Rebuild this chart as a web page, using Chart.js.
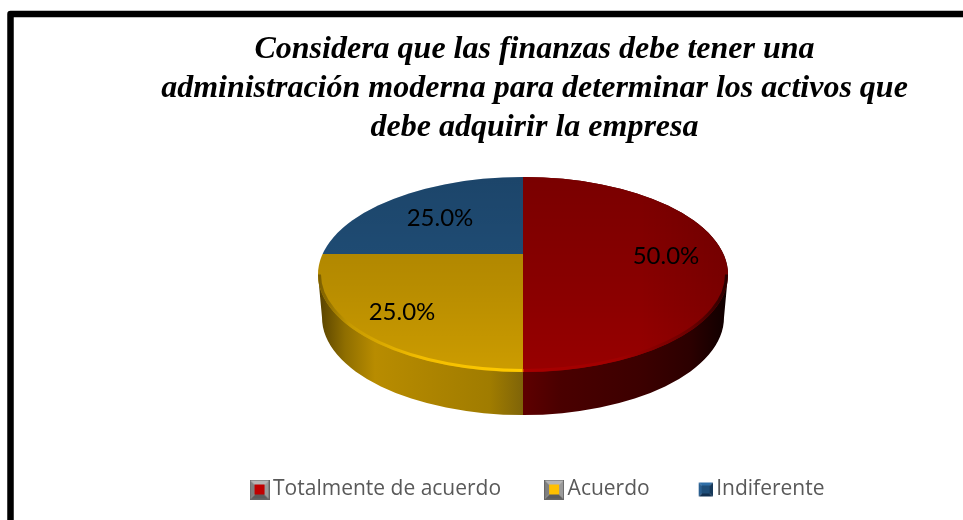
<!DOCTYPE html>
<html><head><meta charset="utf-8">
<style>html,body{margin:0;padding:0;background:#fff;overflow:hidden}#w{width:963px;height:520px;position:relative}</style>
<script src="https://cdn.jsdelivr.net/npm/chart.js@4/dist/chart.umd.min.js"></script>
</head><body><div id="w"><canvas id="c" width="963" height="520"></canvas></div>
<script>
const titleLines = ['Considera que las finanzas debe tener una','administración moderna para determinar los activos que','debe adquirir la empresa'];
const categories = ['Totalmente de acuerdo','Acuerdo','Indiferente'];
const values = [50,25,25];
const sliceColors = ['#980000','#cc9c00','#235684'];
const markerFill = ['#c00000','#ffc000','#1f4e79'];
const labelOffsets = [[143,2],[-121,58],[-83,-36]];

const P = {cx:523,cy:254,ecy:274.5,rx:205,ry:97.5,depth:43,bx:201};

function marker(i){
  const c=document.createElement('canvas');c.width=20;c.height=20;const g=c.getContext('2d');
  const small=i===2, x0=small?6:0, y0=small?3:0, s=small?14:20, b=small?3:5;
  const face=(pts,col)=>{g.fillStyle=col;g.beginPath();pts.forEach((p,k)=>k?g.lineTo(p[0],p[1]):g.moveTo(p[0],p[1]));g.closePath();g.fill();};
  const x1=x0+s,y1=y0+s,ix0=x0+b,iy0=y0+b,ix1=x1-b,iy1=y1-b;
  const cols=small?['#2f6fa8','#17395a','#123050','#2a5f90']:['#b5b5b5','#9a9a9a','#5c5c5c','#808080'];
  face([[x0,y0],[x1,y0],[ix1,iy0],[ix0,iy0]],cols[0]);
  face([[x1,y0],[x1,y1],[ix1,iy1],[ix1,iy0]],cols[1]);
  face([[x0,y1],[x1,y1],[ix1,iy1],[ix0,iy1]],cols[2]);
  face([[x0,y0],[x0,y1],[ix0,iy1],[ix0,iy0]],cols[3]);
  g.fillStyle=markerFill[i];g.fillRect(ix0,iy0,ix1-ix0,iy1-iy0);
  if(!small){g.strokeStyle='#666';g.lineWidth=1;g.strokeRect(x0+.5,y0+.5,s-1,s-1);}
  return c;
}
const markers = categories.map((_,i)=>marker(i));

function mapTransform(ctx,arc,cx,cy){
  const k=500/arc.outerRadius;
  ctx.translate(cx,cy);ctx.scale(k,k);ctx.translate(-arc.x,-arc.y);
  return k;
}
function hull(ctx){
  ctx.beginPath();
  ctx.ellipse(P.cx,P.ecy,P.rx,P.ry,0,Math.PI,0);
  ctx.lineTo(P.cx+P.bx,P.ecy+P.depth);
  ctx.ellipse(P.cx,P.ecy+P.depth,P.bx,P.ry,0,0,Math.PI);
  ctx.closePath();
}
const pie3d = {
  id:'pie3d',
  afterLayout(chart){
    chart.legend.left+=6;chart.legend.right+=6;
  },
  beforeDraw(chart){
    const ctx=chart.ctx;
    ctx.save();
    ctx.fillStyle='#fff';ctx.fillRect(0,0,963,520);
    ctx.strokeStyle='#000';ctx.lineWidth=6.5;ctx.lineJoin='round';
    ctx.strokeRect(10.5,14,1000,600);
    ctx.restore();
  },
  beforeDatasetDraw(chart){
    const ctx=chart.ctx, arcs=chart.getDatasetMeta(0).data, a0=arcs[0];
    // side wall
    ctx.save();hull(ctx);ctx.clip();
    const k=500/a0.outerRadius;
    const lx=X=>a0.x+(X-P.cx)/k;
    const sideStops={
      1:[[320,'#5a4400'],[345,'#8f6e00'],[375,'#b88c00'],[430,'#ad8400'],[490,'#a07c00'],[523,'#7f6408']],
      0:[[523,'#5e0000'],[560,'#4a0000'],[640,'#3c0000'],[690,'#2c0000'],[728,'#0e0000']]
    };
    [1,0].forEach(idx=>{
      const arc=arcs[idx], st=sideStops[idx];
      const g=ctx.createLinearGradient(lx(st[0][0]),0,lx(st[st.length-1][0]),0);
      const span=st[st.length-1][0]-st[0][0];
      st.forEach(s=>g.addColorStop((s[0]-st[0][0])/span,s[1]));
      ctx.save();mapTransform(ctx,a0,P.cx,P.ecy);
      const o=arc.options;arc.options=Object.assign({},o,{backgroundColor:g,borderWidth:0});
      arc.draw(ctx);arc.options=o;ctx.restore();
    });
    ctx.restore();
    // top face: clip to the ellipse and let the library draw the slices
    ctx.save();
    ctx.beginPath();ctx.ellipse(P.cx,P.ecy,P.rx,P.ry,0,0,Math.PI*2);ctx.clip();
    mapTransform(ctx,a0,P.cx,P.cy);
  },
  afterDatasetDraw(chart){
    const ctx=chart.ctx;
    ctx.restore();
    ctx.save();
    ctx.beginPath();ctx.ellipse(P.cx,P.ecy,P.rx,P.ry,0,0,Math.PI*2);ctx.clip();
    const v=ctx.createLinearGradient(0,P.ecy-P.ry,0,P.ecy+P.ry);
    v.addColorStop(0,'rgba(0,0,0,0.2)');v.addColorStop(.55,'rgba(0,0,0,0.1)');v.addColorStop(1,'rgba(0,0,0,0)');
    ctx.fillStyle=v;ctx.fillRect(P.cx-P.rx,P.ecy-P.ry,2*P.rx,2*P.ry);
    const e=ctx.createLinearGradient(640,0,P.cx+P.rx,0);
    e.addColorStop(0,'rgba(0,0,0,0)');e.addColorStop(1,'rgba(0,0,0,0.12)');
    ctx.fillStyle=e;ctx.fillRect(640,P.ecy-P.ry,P.rx,2*P.ry);
    ctx.restore();
    // rim highlight
    ctx.save();
    const r=ctx.createLinearGradient(P.cx-P.rx,0,P.cx+P.rx,0);
    const span=2*P.rx, st=x=>(x-(P.cx-P.rx))/span;
    r.addColorStop(0,'#7a5d00');r.addColorStop(st(350),'#c79a00');r.addColorStop(st(420),'#f2bd00');r.addColorStop(st(522),'#ffcb00');
    r.addColorStop(st(524),'#a80000');r.addColorStop(st(620),'#a00000');r.addColorStop(st(690),'#6c0000');r.addColorStop(1,'#260000');
    ctx.strokeStyle=r;ctx.lineWidth=3;
    ctx.beginPath();ctx.ellipse(P.cx,P.ecy,P.rx-1.5,P.ry-1.5,0,0,Math.PI);ctx.stroke();
    ctx.restore();
  },
  afterDatasetsDraw(chart){
    const ctx=chart.ctx, total=values.reduce((a,b)=>a+b,0);
    ctx.save();
    ctx.font='24px Lato';ctx.fillStyle='#000';ctx.textAlign='center';ctx.textBaseline='middle';
    values.forEach((val,i)=>{
      ctx.fillText((val/total*100).toFixed(1)+'%',P.cx+labelOffsets[i][0],P.cy+labelOffsets[i][1]);
    });
    ctx.restore();
  }
};
new Chart(document.getElementById('c'),{
  type:'pie',
  data:{labels:categories,datasets:[{data:values,backgroundColor:sliceColors,borderWidth:0,hoverOffset:0}]},
  plugins:[pie3d],
  options:{
    responsive:false,animation:false,
    layout:{padding:{left:106,top:30,bottom:10,right:0}},
    plugins:{
      tooltip:{enabled:false},
      title:{display:true,text:titleLines,color:'#000',font:{family:'"Liberation Serif"',size:32,weight:'bold',style:'italic',lineHeight:1.22},padding:{top:0,bottom:10}},
      legend:{position:'bottom',labels:{
        font:{family:'"Open Sans"',size:21},color:'#595959',usePointStyle:true,boxWidth:6,boxHeight:10,padding:50,
        generateLabels:()=>categories.map((t,i)=>({text:t,fillStyle:sliceColors[i],strokeStyle:sliceColors[i],lineWidth:0,hidden:false,index:i,pointStyle:markers[i],fontColor:'#595959'}))
      }}
    }
  }
});
</script></body></html>
